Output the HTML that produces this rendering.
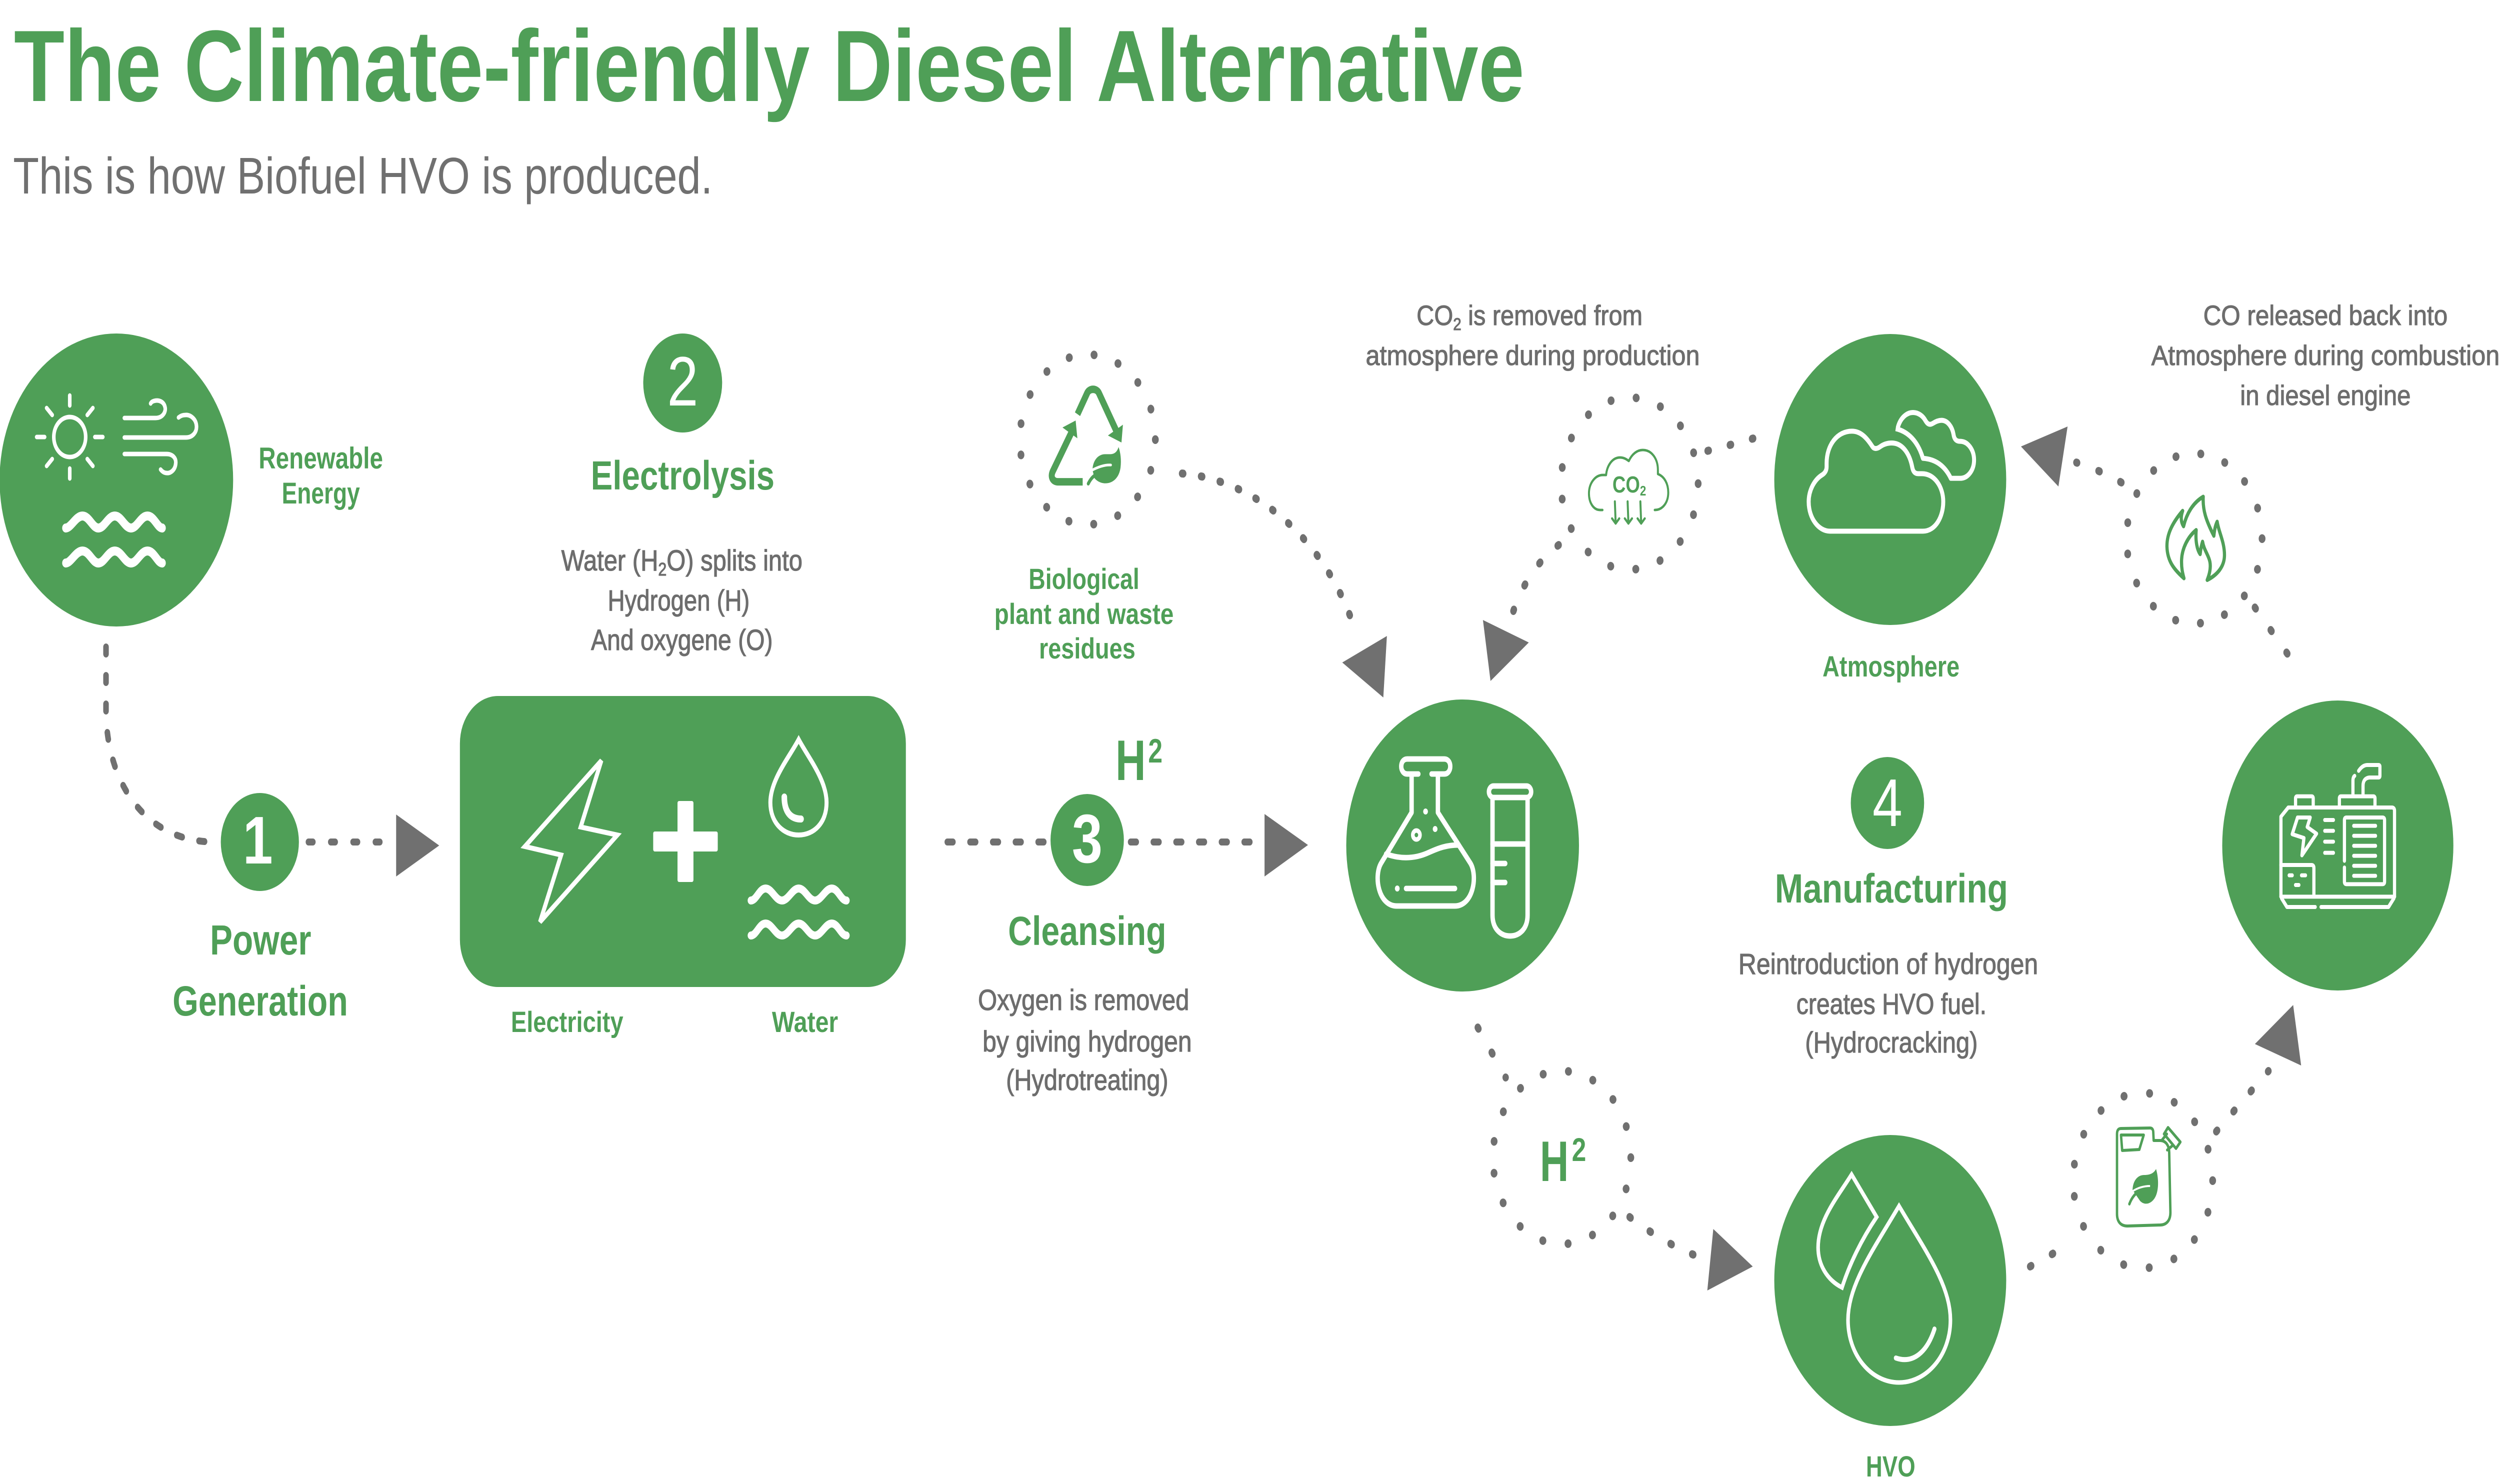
<!DOCTYPE html>
<html><head><meta charset="utf-8">
<style>
html,body{margin:0;padding:0;background:#fff;overflow:hidden;width:100%;height:100%;}
svg{display:block;position:absolute;top:0;left:0;width:100vw;height:100vh;}
text{font-family:"Liberation Sans",Arial,sans-serif;}
</style></head><body>
<svg xmlns="http://www.w3.org/2000/svg" viewBox="0 0 6273 2968" preserveAspectRatio="none">
<rect width="6273" height="2968" fill="#fff"/>

<!-- Title -->
<text x="35" y="202" font-size="203" font-weight="bold" fill="#4f9f57" textLength="3790" lengthAdjust="spacingAndGlyphs">The Climate-friendly Diesel Alternative</text>
<text x="33" y="387" font-size="103" fill="#707070" textLength="1755" lengthAdjust="spacingAndGlyphs">This is how Biofuel HVO is produced.</text>

<!-- Green shapes -->
<g fill="#4f9f57">
<circle cx="292" cy="960" r="293"/>
<circle cx="3670" cy="1691" r="292"/>
<circle cx="4743" cy="959" r="291"/>
<circle cx="5866" cy="1691" r="290"/>
<circle cx="4743" cy="2561" r="291"/>
<circle cx="652" cy="1684" r="98"/>
<circle cx="1713" cy="766" r="99"/>
<circle cx="2728" cy="1680" r="92"/>
<circle cx="4736" cy="1606" r="92"/>
<rect x="1154" y="1392" width="1119" height="582" rx="95"/>
</g>

<!-- Dashed connectors (left) -->
<g fill="none" stroke="#707070" stroke-width="14" stroke-linecap="round" stroke-dasharray="14 43">
<path d="M266,1294 L266,1420 C266,1560 360,1684 540,1684"/>
<path d="M774,1684 L960,1684" stroke-dasharray="11 45"/>
<path d="M2377,1684 L2625,1684"/>
<path d="M2837,1684 L3140,1684"/>
</g>

<!-- Dotted connectors (right) -->
<g fill="none" stroke="#707070" stroke-width="16" stroke-linecap="round">
<path d="M2966,947 C3150,960 3330,1080 3402,1265" stroke-dasharray="3 45"/>
<path d="M4399,877 C4370,883 4330,893 4283,902" stroke-dasharray="3 54"/>
<path d="M3911,1090 C3860,1120 3818,1170 3795,1228" stroke-dasharray="3 55"/>
<path d="M3708,2055 L3778,2155" stroke-dasharray="3 58"/>
<path d="M4089,2434 C4140,2465 4195,2492 4251,2510" stroke-dasharray="3 55"/>
<path d="M5094,2533 L5203,2484" stroke-dasharray="3 57"/>
<path d="M5561,2263 L5692,2142" stroke-dasharray="3 56"/>
<path d="M5323,965 C5290,950 5250,935 5210,925" stroke-dasharray="3 56"/>
<path d="M5658,1215 L5777,1350" stroke-dasharray="3 57"/>
</g>

<!-- Dotted circles -->
<g fill="none" stroke="#707070" stroke-width="17" stroke-linecap="round">
<circle cx="2729" cy="879" r="170" stroke-dasharray="0.5 62.33"/>
<circle cx="4089" cy="967" r="172" stroke-dasharray="0.5 63.07"/>
<circle cx="5506" cy="1077" r="170" stroke-dasharray="0.5 62.33"/>
<circle cx="3919" cy="2315" r="173" stroke-dasharray="0.5 63.44"/>
<circle cx="5377" cy="2361" r="175" stroke-dasharray="0.5 64.18"/>
</g>

<!-- Arrowheads -->
<g fill="#707070">
<polygon points="994,1629 994,1753 1102,1691"/>
<polygon points="3173,1628 3173,1753 3282,1690"/>
<polygon points="3368,1325 3480,1272 3471,1395"/>
<polygon points="3721,1240 3836,1285 3740,1362"/>
<polygon points="5071,893 5188,853 5165,973"/>
<polygon points="4299,2458 4284,2581 4398,2533"/>
<polygon points="5658,2088 5754,2010 5774,2131"/>
</g>

<!-- Renewable icon -->
<g fill="none" stroke="#fff" stroke-width="9" stroke-linecap="round" stroke-linejoin="round">
<circle cx="175" cy="874" r="40"/>
<path d="M175,791 L175,811 M175,937 L175,957 M92,874 L112,874 M238,874 L258,874 M117,816 L131,830 M219,918 L233,932 M233,816 L219,830 M131,918 L117,932"/>
<path d="M312,836 L390,836 C410,836 417,822 414,814 C411,803 398,799 386,802 C382,803 379,805 378,807"/>
<path d="M312,875 L466,875 C484,875 494,864 493,852 C492,838 478,829 465,830 C457,830 451,833 448,835"/>
<path d="M312,908 L418,908 C433,908 442,916 441,926 C440,940 428,947 418,946 C411,946 406,942 403,939"/>
<path stroke-width="18" d="M165,1056 C178,1056 190,1032 207,1032 C224,1032 232,1056 247,1056 C262,1056 271,1032 288,1032 C305,1032 313,1056 329,1056 C344,1056 353,1032 370,1032 C387,1032 395,1056 407,1056"/>
<path stroke-width="18" d="M165,1126 C178,1126 190,1102 207,1102 C224,1102 232,1126 247,1126 C262,1126 271,1102 288,1102 C305,1102 313,1126 329,1126 C344,1126 353,1102 370,1102 C387,1102 395,1126 407,1126"/>
</g>

<!-- Electrolysis box icons -->
<g fill="none" stroke="#fff" stroke-width="10" stroke-linejoin="miter" stroke-linecap="round">
<polygon points="1509,1521 1317,1693 1408,1710 1355,1844 1549,1670 1457,1654"/>
<path d="M2004,1479 C1980,1515 1933,1560 1933,1605 C1933,1645 1965,1670 2004,1670 C2043,1670 2074,1645 2074,1605 C2074,1560 2028,1515 2004,1479 Z"/>
<path stroke-width="14" d="M1968,1594 C1968,1624 1984,1638 2010,1638"/>
<path stroke-width="16" d="M1884,1801 C1898,1801 1905,1777 1921,1777 C1937,1777 1946,1801 1962,1801 C1978,1801 1988,1777 2004,1777 C2020,1777 2029,1801 2045,1801 C2061,1801 2071,1777 2087,1777 C2103,1777 2110,1801 2124,1801"/>
<path stroke-width="16" d="M1884,1871 C1898,1871 1905,1847 1921,1847 C1937,1847 1946,1871 1962,1871 C1978,1871 1988,1847 2004,1847 C2020,1847 2029,1871 2045,1871 C2061,1871 2071,1847 2087,1847 C2103,1847 2110,1871 2124,1871"/>
</g>
<g fill="#fff">
<rect x="1700" y="1602" width="40" height="162" rx="4"/>
<rect x="1639" y="1663" width="162" height="40" rx="4"/>
</g>

<!-- Recycle icon -->
<g transform="translate(2540,690) scale(0.33333)">
<g fill="none" stroke="#4f9f57" stroke-width="45">
<path d="M491,415 L563,290 C580,258 636,258 653,290 L783,515"/>
<path d="M447,522 L305,758 C285,792 305,821 345,821 L530,821"/>
</g>
<g fill="#4f9f57">
<polygon points="720,543 833,478 822,585"/>
<polygon points="378,495 477,453 490,560"/>
<path d="M604,752 C604,700 640,655 700,655 L738,655 C770,655 790,640 800,612 C815,645 822,690 815,735 C805,795 760,830 700,830 C665,830 635,815 620,800 Z"/>
</g>
<path d="M598,752 C650,730 700,718 742,720" fill="none" stroke="#fff" stroke-width="16" stroke-linecap="round"/>
<path d="M572,832 C592,800 612,786 628,780" fill="none" stroke="#4f9f57" stroke-width="22" stroke-linecap="round"/>
</g>

<!-- Flask icon -->
<g fill="none" stroke="#fff" stroke-width="11" stroke-linecap="round" stroke-linejoin="round">
<path d="M3542,1548 L3542,1625 L3465,1727 C3447,1752 3458,1812 3505,1812 L3650,1812 C3697,1812 3708,1752 3690,1727 L3608,1625 L3608,1548"/>
<path d="M3559,1548 L3531,1548 C3521,1548 3516,1540 3516,1533 C3516,1525 3521,1518 3531,1518 L3624,1518 C3634,1518 3639,1525 3639,1533 C3639,1540 3634,1548 3624,1548 L3592,1548"/>
<path d="M3478,1708 C3520,1720 3555,1716 3585,1705 C3610,1696 3630,1690 3660,1690"/>
<circle cx="3554" cy="1670" r="9" stroke-width="9"/>
<path d="M3528,1777 L3651,1777"/>
<rect x="3736" y="1572" width="106" height="23" rx="11.5"/>
<path d="M3745,1595 L3745,1830 C3745,1860 3768,1872 3789,1872 C3810,1872 3833,1860 3833,1830 L3833,1595"/>
<path d="M3745,1688 L3833,1688 M3745,1727 L3777,1727 M3745,1765 L3777,1765"/>
</g>
<g fill="#fff">
<circle cx="3577" cy="1623" r="6"/>
<circle cx="3601" cy="1658" r="6"/>
<circle cx="3506" cy="1777" r="6"/>
</g>

<!-- CO2 cloud icon -->
<g fill="none" stroke="#4f9f57" stroke-width="5" stroke-linecap="round" stroke-linejoin="round">
<path d="M4021,1020 L4015,1020 C3998,1020 3987,1005 3987,987 C3987,966 4003,950 4022,950 L4030,950 C4032,932 4045,915 4065,915 C4075,915 4082,919 4087,922 C4095,908 4108,900 4122,900 C4145,900 4160,918 4160,940 L4160,948 C4176,953 4186,967 4186,985 C4186,1005 4172,1020 4152,1020"/>
<path d="M4052,1003 L4054,1046 M4045,1037 L4054,1047 L4063,1037"/>
<path d="M4084,1003 L4086,1046 M4077,1037 L4086,1047 L4095,1037"/>
<path d="M4116,1003 L4118,1046 M4109,1037 L4118,1047 L4127,1037"/>
</g>
<text x="4046" y="985" font-size="46" font-weight="bold" fill="#4f9f57">CO<tspan font-size="28" dy="6">2</tspan></text>

<!-- Atmosphere cloud icon -->
<g transform="translate(4520,800) scale(0.33333)" fill="none" stroke="#fff" stroke-width="30" stroke-linecap="butt" stroke-linejoin="round">
<path d="M215,787 L915,787 C1010,787 1068,700 1068,610 C1068,520 1000,440 905,442 L880,442 C850,442 840,425 835,405 C815,320 760,258 680,258 C640,258 610,270 590,282 C575,290 550,298 535,280 C495,230 450,187 380,187 C270,187 190,270 190,380 L190,400 C190,425 175,440 155,450 C95,480 55,545 55,610 C55,710 130,787 215,787 Z"/>
<path d="M710,172 C810,190 880,255 915,350 C1010,355 1080,395 1125,470 L1195,470 C1255,470 1300,420 1300,360 C1300,300 1255,248 1195,248 C1165,248 1150,235 1145,205 C1135,160 1100,122 1055,122 C1030,122 1010,130 990,140 C965,152 950,145 935,125 C915,95 880,75 840,75 C790,75 745,110 727,162"/>
</g>

<!-- Fire icon -->
<g transform="translate(5300,870) scale(0.33333)">
<path d="M540,860 C470,810 415,760 412,670 C410,590 460,520 530,455 C515,490 515,520 537,548 C560,470 610,405 685,370 C680,450 705,510 765,605 C770,570 775,545 790,520 C800,580 845,640 845,720 C845,790 790,840 715,870 C730,840 745,800 735,760 C725,720 690,690 680,640 C670,665 665,690 662,715 C640,690 625,640 632,570 C570,610 525,680 522,750 C520,800 530,830 540,860 Z" fill="none" stroke="#4f9f57" stroke-width="24" stroke-linejoin="round"/>
</g>

<!-- Engine icon -->
<g transform="translate(5700,1500) scale(0.33333)" fill="none" stroke="#fff" stroke-width="24" stroke-linecap="round" stroke-linejoin="round">
<path d="M70,880 L70,400 L125,345 L905,345 Q925,345 925,365 L925,880"/>
<path d="M70,880 L925,880"/>
<path d="M75,890 L115,942 L328,942 M372,942 L880,942 L920,890"/>
<path d="M180,335 L180,290 Q180,278 192,278 L301,278 Q313,278 313,290 L313,335"/>
<path d="M510,335 L510,290 Q510,278 522,278 L766,278 Q778,278 778,290 L778,335"/>
<path d="M612,270 L612,185 Q612,162 625,155"/>
<path d="M655,125 Q685,90 720,90 L805,90 Q815,90 815,100 L815,155 Q815,165 805,165 L735,165 Q688,170 688,215 L688,270"/>
<path d="M195,405 L290,405 L268,462 L338,502 L228,632 L243,528 L155,505 Z"/>
<path d="M400,420 L465,420 M400,485 L465,485 M400,550 L465,550 M400,617 L465,617"/>
<path d="M548,665 L548,420 Q548,405 563,405 L835,405 Q850,405 850,420 L850,790 Q850,805 835,805 L563,805 Q548,805 548,790 L548,705"/>
<path d="M618,455 L782,455 M618,515 L782,515 M618,575 L782,575 M618,635 L782,635 M618,695 L782,695 M618,755 L782,755"/>
<path d="M70,690 L300,690 Q318,690 318,708 L318,875"/>
<path d="M132,752 L155,752 M225,752 L255,752 M180,810 L205,810"/>
</g>

<!-- HVO drops -->
<g fill="none" stroke="#fff" stroke-width="9" stroke-linecap="round" stroke-linejoin="miter">
<path d="M4646,2349 L4709,2434 C4670,2480 4640,2530 4622,2575 C4585,2560 4562,2530 4562,2495 C4562,2440 4610,2395 4646,2349 Z"/>
<path d="M4765,2412 C4700,2500 4637,2570 4637,2640 C4637,2710 4695,2765 4765,2765 C4835,2765 4894,2710 4894,2640 C4894,2570 4830,2500 4765,2412 Z"/>
<path stroke-width="10" stroke-linecap="round" d="M4757,2716 C4800,2728 4835,2705 4854,2658"/>
</g>

<!-- Can icon -->
<g fill="none" stroke="#4f9f57" stroke-width="6" stroke-linecap="round" stroke-linejoin="round">
<path d="M5312,2268 C5312,2260 5316,2257 5322,2257 L5395,2256 C5400,2256 5403,2259 5403,2265 L5404,2281 L5420,2281 C5435,2281 5443,2292 5443,2305 L5446,2425 C5446,2442 5435,2450 5420,2450 L5338,2452 C5320,2452 5312,2442 5312,2428 Z"/>
<path d="M5322,2270 L5379,2270 L5368,2299 L5325,2301 Z"/>
<path d="M5440,2255 L5471,2284 L5460,2297 L5430,2268 Z"/>
<path d="M5425,2280 L5437,2268 M5438,2300 L5450,2292"/>
</g>
<path d="M5351,2380 C5352,2360 5365,2350 5380,2350 C5398,2350 5405,2345 5410,2338 C5418,2360 5417,2388 5403,2400 C5393,2409 5380,2410 5370,2402 Z" fill="#4f9f57"/>
<path d="M5350,2383 C5365,2375 5380,2372 5395,2372" fill="none" stroke="#fff" stroke-width="4"/>
<path d="M5343,2408 C5350,2393 5360,2385 5372,2380" fill="none" stroke="#4f9f57" stroke-width="6" stroke-linecap="round"/>

<!-- Number digits -->
<g fill="#fff" text-anchor="middle">
<text x="647" y="1727" font-size="135" font-weight="bold">1</text>
<text x="1713" y="811" font-size="140">2</text>
<text x="2728" y="1725" font-size="138" font-weight="bold">3</text>
<text x="4736" y="1652" font-size="135">4</text>
</g>

<!-- Green labels -->
<g fill="#4f9f57" font-weight="bold" text-anchor="middle">
<text x="805" y="937" font-size="60" textLength="312" lengthAdjust="spacingAndGlyphs">Renewable</text>
<text x="805" y="1007" font-size="60" textLength="196" lengthAdjust="spacingAndGlyphs">Energy</text>
<text x="654" y="1909" font-size="84" textLength="254" lengthAdjust="spacingAndGlyphs">Power</text>
<text x="653" y="2031" font-size="84" textLength="440" lengthAdjust="spacingAndGlyphs">Generation</text>
<text x="1713" y="979" font-size="82" textLength="461" lengthAdjust="spacingAndGlyphs">Electrolysis</text>
<text x="1423" y="2064" font-size="58" textLength="282" lengthAdjust="spacingAndGlyphs">Electricity</text>
<text x="2020" y="2064" font-size="58" textLength="166" lengthAdjust="spacingAndGlyphs">Water</text>
<text x="2720" y="1178" font-size="58" textLength="278" lengthAdjust="spacingAndGlyphs">Biological</text>
<text x="2720" y="1248" font-size="58" textLength="450" lengthAdjust="spacingAndGlyphs">plant and waste</text>
<text x="2728" y="1317" font-size="58" textLength="242" lengthAdjust="spacingAndGlyphs">residues</text>
<text x="2728" y="1890" font-size="82" textLength="397" lengthAdjust="spacingAndGlyphs">Cleansing</text>
<text x="4745" y="1353" font-size="58" textLength="344" lengthAdjust="spacingAndGlyphs">Atmosphere</text>
<text x="4746" y="1805" font-size="82" textLength="585" lengthAdjust="spacingAndGlyphs">Manufacturing</text>
<text x="4744" y="2953" font-size="58" textLength="124" lengthAdjust="spacingAndGlyphs">HVO</text>
</g>
<g fill="#4f9f57" font-weight="bold">
<text x="2799" y="1560" font-size="114" textLength="76" lengthAdjust="spacingAndGlyphs">H</text>
<text x="2881" y="1525" font-size="68" textLength="36" lengthAdjust="spacingAndGlyphs">2</text>
<text x="3864" y="2362" font-size="114" textLength="72" lengthAdjust="spacingAndGlyphs">H</text>
<text x="3944" y="2322" font-size="66" textLength="36" lengthAdjust="spacingAndGlyphs">2</text>
</g>

<!-- Gray body text -->
<g fill="#6d6d6d" stroke="#6d6d6d" stroke-width="1.2" text-anchor="middle">
<text x="1711" y="1141" font-size="58" textLength="605" lengthAdjust="spacingAndGlyphs">Water (H<tspan font-size="36" dy="10">2</tspan><tspan dy="-10">O) splits into</tspan></text>
<text x="1703" y="1221" font-size="58" textLength="356" lengthAdjust="spacingAndGlyphs">Hydrogen (H)</text>
<text x="1711" y="1300" font-size="58" textLength="456" lengthAdjust="spacingAndGlyphs">And oxygene (O)</text>
<text x="2719" y="2020" font-size="58" textLength="530" lengthAdjust="spacingAndGlyphs">Oxygen is removed</text>
<text x="2728" y="2103" font-size="58" textLength="525" lengthAdjust="spacingAndGlyphs">by giving hydrogen</text>
<text x="2728" y="2180" font-size="58" textLength="407" lengthAdjust="spacingAndGlyphs">(Hydrotreating)</text>
<text x="3838" y="650" font-size="56" textLength="567" lengthAdjust="spacingAndGlyphs">CO<tspan font-size="34" dy="10">2</tspan><tspan dy="-10"> is removed from</tspan></text>
<text x="3846" y="730" font-size="56" textLength="838" lengthAdjust="spacingAndGlyphs">atmosphere during production</text>
<text x="4738" y="1948" font-size="58" textLength="752" lengthAdjust="spacingAndGlyphs">Reintroduction of hydrogen</text>
<text x="4746" y="2028" font-size="58" textLength="477" lengthAdjust="spacingAndGlyphs">creates HVO fuel.</text>
<text x="4746" y="2105" font-size="58" textLength="433" lengthAdjust="spacingAndGlyphs">(Hydrocracking)</text>
<text x="5835" y="650" font-size="56" textLength="613" lengthAdjust="spacingAndGlyphs">CO released back into</text>
<text x="5835" y="730" font-size="56" textLength="874" lengthAdjust="spacingAndGlyphs">Atmosphere during combustion</text>
<text x="5835" y="810" font-size="56" textLength="428" lengthAdjust="spacingAndGlyphs">in diesel engine</text>
</g>
</svg>
</body></html>
